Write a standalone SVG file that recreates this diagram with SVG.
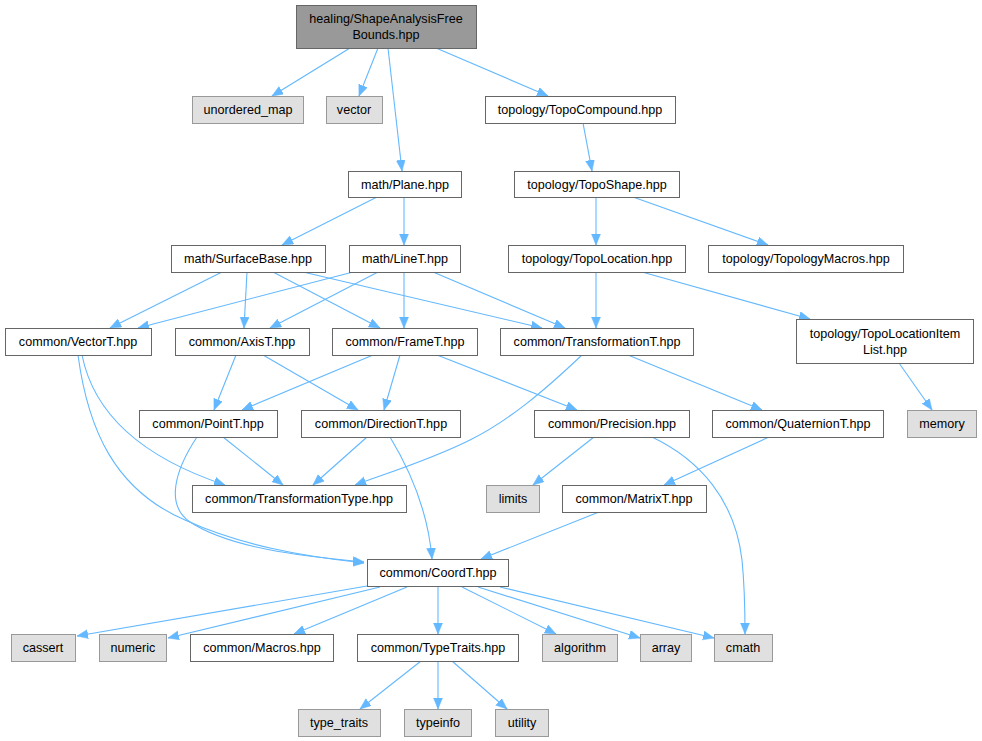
<svg xmlns="http://www.w3.org/2000/svg" width="982" height="741" viewBox="0 0 982 741">
<style>
.n rect{fill:#ffffff;stroke:#666666;stroke-width:1}
.x rect{fill:#e0e0e0;stroke:#999999;stroke-width:1}
.r rect{fill:#999999;stroke:#666666;stroke-width:1}
text{font-family:"Liberation Sans",Arial,sans-serif;font-size:12.6px;fill:#000000;text-anchor:middle}
#edges path{fill:none;stroke:#63b8ff;stroke-width:1.1;marker-end:url(#a)}
</style>
<defs>
<marker id="a" markerWidth="12" markerHeight="10" refX="11" refY="4.5" orient="auto" markerUnits="userSpaceOnUse">
<path d="M0,0 L11,4.5 L0,9 z" fill="#63b8ff" stroke="#63b8ff" stroke-width="0.5"/>
</marker>
</defs>
<rect width="982" height="741" fill="#ffffff"/>
<g id="edges">
<path d="M350,48 L272,96"/>
<path d="M378,48 L359,96"/>
<path d="M388,48 L402,171"/>
<path d="M436,48 L548,96"/>
<path d="M583,123 L592,171"/>
<path d="M596,197 L596,245"/>
<path d="M633,197 L768,245"/>
<path d="M596,272 L596,328"/>
<path d="M642,272 L810,319"/>
<path d="M899,363 L932,410"/>
<path d="M377,197 L282,245"/>
<path d="M404,197 L404,245"/>
<path d="M222,272 L110,328"/>
<path d="M247,272 L244,328"/>
<path d="M273,272 L380,328"/>
<path d="M303,272 L542,328"/>
<path d="M353,272 L138,328"/>
<path d="M378,272 L270,328"/>
<path d="M404,272 L404,328"/>
<path d="M433,272 L565,328"/>
<path d="M82,355 C95,420 150,460 225,485"/>
<path d="M78,355 C88,430 115,490 185,520 C240,545 300,556 364,563"/>
<path d="M236,355 L214,410"/>
<path d="M263,355 L358,410"/>
<path d="M373,355 L242,410"/>
<path d="M400,355 L384,410"/>
<path d="M437,355 L577,410"/>
<path d="M582,355 C545,390 510,420 470,440 C430,460 390,472 355,485"/>
<path d="M628,355 L762,410"/>
<path d="M223,437 L283,485"/>
<path d="M197,437 C175,470 165,505 190,522 C230,548 300,556 364,562"/>
<path d="M367,437 L313,485"/>
<path d="M390,437 C410,470 428,510 432,559"/>
<path d="M594,437 L533,485"/>
<path d="M652,437 C700,460 735,500 742,560 C745,590 745,610 745,634"/>
<path d="M769,437 L664,485"/>
<path d="M599,512 L481,559"/>
<path d="M367,586 L77,636"/>
<path d="M380,587 L168,638"/>
<path d="M407,587 L294,634"/>
<path d="M438,587 L438,634"/>
<path d="M462,587 L556,634"/>
<path d="M478,587 L640,638"/>
<path d="M500,587 L714,638"/>
<path d="M421,661 L360,709"/>
<path d="M438,661 L438,709"/>
<path d="M452,661 L507,709"/>
</g>
<g id="n-root" class="r"><rect x="296.5" y="5.5" width="180" height="43"/><text x="386" y="23">healing/ShapeAnalysisFree</text><text x="386" y="39">Bounds.hpp</text></g>
<g id="n-unordered_map" class="x"><rect x="192.5" y="96.5" width="111" height="27"/><text x="248" y="114">unordered_map</text></g>
<g id="n-vector" class="x"><rect x="326.5" y="96.5" width="56" height="27"/><text x="354" y="114">vector</text></g>
<g id="n-topocompound" class="n"><rect x="485.5" y="96.5" width="190" height="27"/><text x="580" y="114">topology/TopoCompound.hpp</text></g>
<g id="n-plane" class="n"><rect x="348.5" y="171.5" width="113" height="26"/><text x="405" y="189">math/Plane.hpp</text></g>
<g id="n-toposhape" class="n"><rect x="514.5" y="171.5" width="165" height="26"/><text x="597" y="189">topology/TopoShape.hpp</text></g>
<g id="n-surfacebase" class="n"><rect x="171.5" y="245.5" width="154" height="27"/><text x="248" y="263">math/SurfaceBase.hpp</text></g>
<g id="n-linet" class="n"><rect x="349.5" y="245.5" width="111" height="27"/><text x="405" y="263">math/LineT.hpp</text></g>
<g id="n-topolocation" class="n"><rect x="508.5" y="245.5" width="177" height="27"/><text x="597" y="263">topology/TopoLocation.hpp</text></g>
<g id="n-topologymacros" class="n"><rect x="708.5" y="245.5" width="195" height="27"/><text x="806" y="263">topology/TopologyMacros.hpp</text></g>
<g id="n-vectort" class="n"><rect x="5.5" y="328.5" width="146" height="27"/><text x="78" y="346">common/VectorT.hpp</text></g>
<g id="n-axist" class="n"><rect x="175.5" y="328.5" width="134" height="27"/><text x="242" y="346">common/AxisT.hpp</text></g>
<g id="n-framet" class="n"><rect x="332.5" y="328.5" width="145" height="27"/><text x="405" y="346">common/FrameT.hpp</text></g>
<g id="n-transformationt" class="n"><rect x="500.5" y="328.5" width="193" height="27"/><text x="597" y="346">common/TransformationT.hpp</text></g>
<g id="n-topolocationitemlist" class="n"><rect x="796.5" y="319.5" width="177" height="44"/><text x="885" y="338">topology/TopoLocationItem</text><text x="885" y="354">List.hpp</text></g>
<g id="n-pointt" class="n"><rect x="139.5" y="410.5" width="138" height="27"/><text x="208" y="428">common/PointT.hpp</text></g>
<g id="n-directiont" class="n"><rect x="301.5" y="410.5" width="159" height="27"/><text x="381" y="428">common/DirectionT.hpp</text></g>
<g id="n-precision" class="n"><rect x="534.5" y="410.5" width="155" height="27"/><text x="612" y="428">common/Precision.hpp</text></g>
<g id="n-quaterniont" class="n"><rect x="712.5" y="410.5" width="171" height="27"/><text x="798" y="428">common/QuaternionT.hpp</text></g>
<g id="n-memory" class="x"><rect x="907.5" y="410.5" width="69" height="27"/><text x="942" y="428">memory</text></g>
<g id="n-transformationtype" class="n"><rect x="192.5" y="485.5" width="214" height="27"/><text x="299" y="503">common/TransformationType.hpp</text></g>
<g id="n-limits" class="x"><rect x="486.5" y="485.5" width="53" height="27"/><text x="513" y="503">limits</text></g>
<g id="n-matrixt" class="n"><rect x="562.5" y="485.5" width="144" height="27"/><text x="634" y="503">common/MatrixT.hpp</text></g>
<g id="n-coordt" class="n"><rect x="367.5" y="559.5" width="141" height="27"/><text x="438" y="577">common/CoordT.hpp</text></g>
<g id="n-cassert" class="x"><rect x="11.5" y="634.5" width="64" height="27"/><text x="43" y="652">cassert</text></g>
<g id="n-numeric" class="x"><rect x="99.5" y="634.5" width="67" height="27"/><text x="133" y="652">numeric</text></g>
<g id="n-macros" class="n"><rect x="190.5" y="634.5" width="143" height="27"/><text x="262" y="652">common/Macros.hpp</text></g>
<g id="n-typetraits" class="n"><rect x="357.5" y="634.5" width="161" height="27"/><text x="438" y="652">common/TypeTraits.hpp</text></g>
<g id="n-algorithm" class="x"><rect x="542.5" y="634.5" width="75" height="27"/><text x="580" y="652">algorithm</text></g>
<g id="n-array" class="x"><rect x="640.5" y="634.5" width="51" height="27"/><text x="666" y="652">array</text></g>
<g id="n-cmath" class="x"><rect x="714.5" y="634.5" width="58" height="27"/><text x="743" y="652">cmath</text></g>
<g id="n-type_traits" class="x"><rect x="298.5" y="709.5" width="82" height="27"/><text x="339" y="727">type_traits</text></g>
<g id="n-typeinfo" class="x"><rect x="404.5" y="709.5" width="67" height="27"/><text x="438" y="727">typeinfo</text></g>
<g id="n-utility" class="x"><rect x="495.5" y="709.5" width="53" height="27"/><text x="522" y="727">utility</text></g>
</svg>
